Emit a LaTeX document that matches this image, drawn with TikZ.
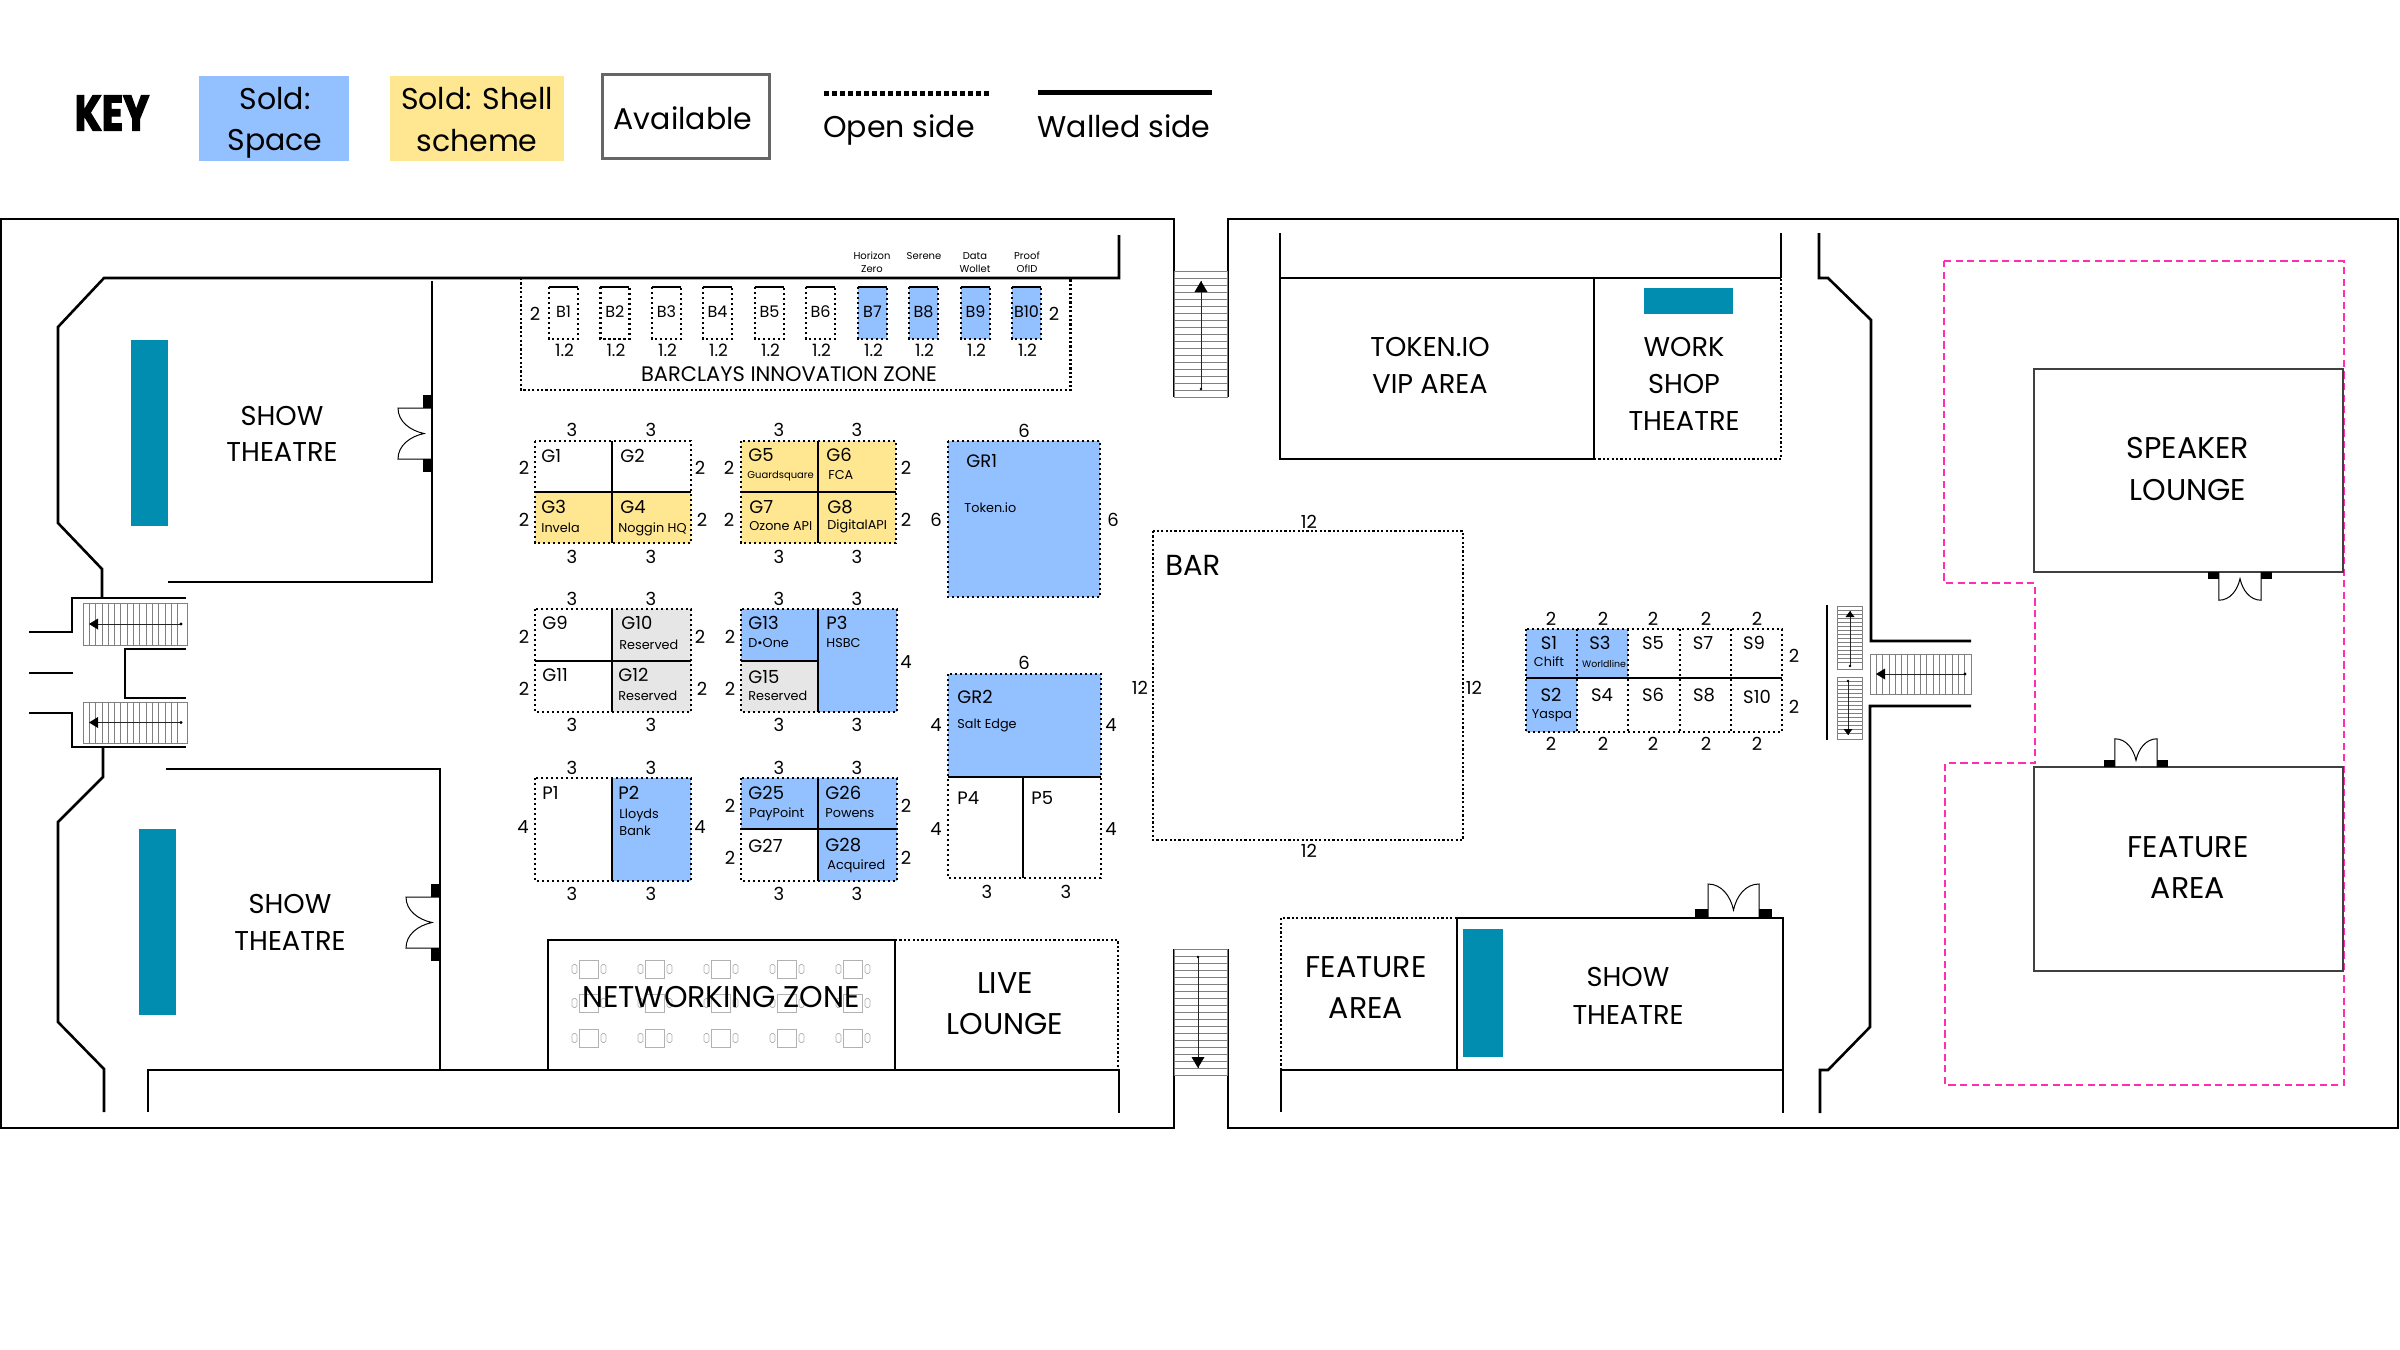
\documentclass[tikz,border=0pt]{standalone}
\usepackage{fontspec}
\setmainfont{Poppins}
\newfontfamily\keyfont{Poppins}[BoldFeatures={FakeBold=2.5, FakeStretch=0.78}]
\usepackage{tikz}

\definecolor{soldblue}{HTML}{93C1FF}
\definecolor{shellyellow}{HTML}{FFE792}
\definecolor{reservedgrey}{HTML}{E6E6E6}
\definecolor{screenteal}{HTML}{008DB0}
\definecolor{zonepink}{HTML}{FF2DB4}

\tikzset{
  wall/.style={line width=1.3pt, line join=miter},
  outerwall/.style={line width=1.3pt},
  thinwall/.style={line width=1pt, draw=black!75},
  opened/.style={line width=1.35pt, dash pattern=on 1.2pt off 1.3pt},
  openthin/.style={line width=1.1pt, dash pattern=on 1.1pt off 1.1pt},
  stairline/.style={line width=0.4pt, draw=black!50},
  stairarrow/.style={line width=0.4pt, draw=black!85},
  furniture/.style={line width=0.35pt, draw=black!30},
  roomlabel/.style={inner sep=0pt, font=\fontsize{13.6}{16}\selectfont, anchor=mid, yshift=-2.2pt},
  biglabel/.style={roomlabel, font=\fontsize{15}{16}\selectfont},
  dimlabel/.style={inner sep=0pt, font=\fontsize{9}{10}\selectfont, anchor=mid, yshift=-0.8pt},
  standlabel/.style={inner sep=0pt, font=\fontsize{9}{10}\selectfont, anchor=mid west, yshift=-0.5pt},
  firmlabel/.style={inner sep=0pt, font=\fontsize{6.4}{7}\selectfont, anchor=mid west, yshift=0.4pt},
  tinylabel/.style={firmlabel, anchor=mid, font=\fontsize{5}{6}\selectfont},
  keylabel/.style={inner sep=0pt, font=\fontsize{15}{16}\selectfont, anchor=mid, yshift=-3pt},
  door/.pic={
    \fill (0,-25.5) rectangle (-9,-38.5);
    \fill (0,25.5) rectangle (-9,38.5);
    \draw[line width=0.5pt] (0,-25.5) -- (-34,-25.5) .. controls (-34,-12) and (-22,-3) .. (-8,0)
      .. controls (-22,3) and (-34,12) .. (-34,25.5) -- (0,25.5);
  }
}

\begin{document}
\begin{tikzpicture}[x=0.5pt, y=-0.5pt]
  \useasboundingbox (0,0) rectangle (2400,1350);

  % Key
  \node[inner sep=0pt, font=\fontsize{25}{26}\selectfont\keyfont\bfseries] (keytitle) at (112,113) {KEY};
  \fill[soldblue] (199,76) rectangle (349,161);
  \fill[shellyellow] (390,76) rectangle (564,161);
  \draw[line width=1.5pt, draw=black!60] (602,74) rectangle (769,158);
  \draw[line width=2.5pt, dash pattern=on 2.4pt off 1.6pt] (824,93) -- (990,93);
  \draw[line width=2.5pt] (1038,92) -- (1212,92);
  \node[keylabel] (keya) at (275,98) {Sold:};
  \node[keylabel] (keyb) at (275,139) {Space};
  \node[keylabel] (keyc) at (477,98) {Sold: Shell};
  \node[keylabel] (keyd) at (477,140) {scheme};
  \node[keylabel] (keye) at (683,118) {Available};
  \node[keylabel] (keyf) at (899,126) {Open side};
  \node[keylabel] (keyg) at (1124,126) {Walled side};

  % Outer walls
  \draw[outerwall] (1174,397) -- (1174,219) -- (1,219) -- (1,1128) -- (1174,1128) -- (1174,949);
  \draw[outerwall] (1228,397) -- (1228,219) -- (2398,219) -- (2398,1128) -- (1228,1128) -- (1228,949);

  % Left block walls
  \draw[wall] (1119,235) -- (1119,278) -- (104,278) -- (58,327) -- (58,523) -- (102,569) -- (102,598);
  \draw[wall] (186,598) -- (72,598) -- (72,632) -- (29,632);
  \draw[wall] (29,673) -- (73,673);
  \draw[wall] (29,713) -- (72,713) -- (72,747) -- (186,747);
  \draw[wall] (186,649) -- (125,649) -- (125,698) -- (186,698);
  \draw[wall] (103,747) -- (103,777) -- (58,822) -- (58,1022) -- (104,1069) -- (104,1112);
  \draw[wall] (148,1112) -- (148,1070) -- (1119,1070) -- (1119,1113);
  \draw[wall] (432,281) -- (432,582) -- (168,582);
  \draw[wall] (166,769) -- (440,769) -- (440,1070);

  % Right block walls
  \draw[wall] (1819,233) -- (1819,278) -- (1828,278) -- (1871,320) -- (1871,641) -- (1971,641);
  \draw[wall] (1971,706) -- (1870,706) -- (1870,1027) -- (1828,1070) -- (1820,1070) -- (1820,1113);
  \draw[wall] (1827,605) -- (1827,740);

  % Top rooms
  \draw[wall] (1280,233) -- (1280,459) -- (1594,459);
  \draw[wall] (1280,278) -- (1781,278);
  \draw[wall] (1781,233) -- (1781,278);
  \draw[wall] (1594,278) -- (1594,459);
  \draw[openthin] (1594,459) -- (1781,459) -- (1781,278);
  \fill[screenteal] (1644,288) rectangle (1733,314);
  \node[roomlabel] (vipa) at (1430,347) {TOKEN.IO};
  \node[roomlabel] (vipb) at (1430,384) {VIP AREA};
  \node[roomlabel] (worka) at (1684,347) {WORK};
  \node[roomlabel] (workb) at (1684,384) {SHOP};
  \node[roomlabel] (workc) at (1684,421) {THEATRE};

  % Bottom rooms
  \draw[wall] (1281,1112) -- (1281,1070) -- (1783,1070);
  \draw[wall] (1457,1070) -- (1457,918) -- (1783,918) -- (1783,1113);
  \draw[openthin] (1281,1070) -- (1281,918) -- (1457,918);
  \fill[screenteal] (1463,929) rectangle (1503,1057);
  \node[biglabel] (feata) at (1366,968) {FEATURE};
  \node[biglabel] (featb) at (1366,1009) {AREA};
  \node[roomlabel] (showa) at (1628,977) {SHOW};
  \node[roomlabel] (showb) at (1628,1015) {THEATRE};

  % Left theatres
  \fill[screenteal] (131,340) rectangle (168,526);
  \fill[screenteal] (139,829) rectangle (176,1015);
  \node[roomlabel] (upshowa) at (282,416) {SHOW};
  \node[roomlabel] (upshowb) at (282,452) {THEATRE};
  \node[roomlabel] (loshowa) at (290,904) {SHOW};
  \node[roomlabel] (loshowb) at (290,941) {THEATRE};

  % Pink zone
  \draw[line width=1.4pt, draw=zonepink, dash pattern=on 3.6pt off 2.2pt]
    (1944,261) -- (2344,261) -- (2344,1085) -- (1945,1085) -- (1945,763) -- (2035,763) -- (2035,583) -- (1944,583) -- cycle;

  % Lounges on the right
  \draw[thinwall, fill=white] (2034,369) rectangle (2343,572);
  \draw[thinwall, fill=white] (2034,767) rectangle (2343,971);
  \node[biglabel] (speaka) at (2188,449) {SPEAKER};
  \node[biglabel] (speakb) at (2188,491) {LOUNGE};
  \node[biglabel] (featc) at (2188,848) {FEATURE};
  \node[biglabel] (featd) at (2188,889) {AREA};

  % Doors
  \pic at (432,433.5) {door};
  \pic at (440,922.5) {door};
  \pic[rotate=-90] at (1733.5,918) {door};
  \pic[rotate=90, scale=0.83] at (2240,572) {door};
  \pic[rotate=-90, scale=0.83] at (2136,767) {door};

  % Stairs, rungs across the short side
  \foreach \xa/\xb/\ya/\yb in {83/187/603/645, 83/187/702/743, 1870/1971/654/694} {
    \draw[stairline] (\xa,\ya) rectangle (\xb,\yb);
    \foreach \s in {1,...,15} \draw[stairline] (\xa+\s*6.3,\ya) -- (\xa+\s*6.3,\yb);
    \draw[stairarrow] (\xb-6,\ya/2+\yb/2) -- (\xa+9,\ya/2+\yb/2);
    \fill (\xb-6,\ya/2+\yb/2) circle (1.7);
    \fill (\xa+6,\ya/2+\yb/2) -- (\xa+15,\ya/2+\yb/2-5.5) -- (\xa+15,\ya/2+\yb/2+5.5) -- cycle;
  }
  \foreach \xa/\xb/\ya/\yb/\xm/\yc/\yd/\ye/\gap/\hw in {1174/1227/271/397/1201/389/281/292/7/6.5, 1174/1227/949/1075/1198/957/1068/1057/7/6.5, 1837/1862/606/669/1850/666/611/617/4/4.5, 1837/1862/677/739/1848/681/735/729/4/4.5} {
    \draw[stairline] (\xa,\ya) rectangle (\xb,\yb);
    \pgfmathtruncatemacro{\rungs}{(\yb-\ya)/\gap-1}
    \foreach \s in {1,...,\rungs} \draw[stairline] (\xa,\ya+\s*\gap) -- (\xb,\ya+\s*\gap);
    \draw[stairarrow] (\xm,\yc) -- (\xm,\yd);
    \fill (\xm,\yc) circle (1.4);
    \fill (\xm,\yd) -- (\xm-\hw,\ye) -- (\xm+\hw,\ye) -- cycle;
  }

  % Networking zone and live lounge
  \draw[wall] (548,1070) -- (548,940) -- (895,940) -- (895,1070);
  \draw[openthin] (895,940) -- (1118,940) -- (1118,1070);
  \foreach \tx in {589,655,721,787,853} {
    \foreach \ty in {969,1003,1038} {
      \draw[furniture] (\tx-9.5,\ty-9) rectangle (\tx+9.5,\ty+9);
      \draw[furniture, rounded corners=0.8pt] (\tx-17,\ty-4.5) rectangle (\tx-12,\ty+4.5);
      \draw[furniture, rounded corners=0.8pt] (\tx+12,\ty-4.5) rectangle (\tx+17,\ty+4.5);
    }
  }
  \node[biglabel] (networking) at (721,998) {NETWORKING ZONE};
  \node[biglabel] (livea) at (1005,984) {LIVE};
  \node[biglabel] (liveb) at (1005,1025) {LOUNGE};

  % Bar
  \draw[openthin] (1153,531) rectangle (1463,840);
  \node[roomlabel, anchor=mid west, font=\fontsize{14.5}{16}\selectfont] (bar) at (1165,566) {BAR};
  \node[dimlabel] (bartop) at (1309,521) {12};
  \node[dimlabel] (barbot) at (1309,850) {12};
  \node[dimlabel] (barleft) at (1140,687) {12};
  \node[dimlabel] (barright) at (1474,687) {12};

  % Barclays zone
  \draw[openthin] (521,278) -- (521,390) -- (1070.5,390) -- (1070.5,278);
  \fill[soldblue] (858,287) rectangle (887,339);
  \fill[soldblue] (909,287) rectangle (938,339);
  \fill[soldblue] (961,287) rectangle (990,339);
  \fill[soldblue] (1012,287) rectangle (1041,339);
  \foreach \bx/\bn in {549/B1,600.4/B2,652/B3,703/B4,755/B5,806/B6,858/B7,909/B8,961/B9,1012/B10} {
    \draw[opened] (\bx,287) -- (\bx,339) -- (\bx+29,339) -- (\bx+29,287);
    \draw[wall] (\bx,287) -- (\bx+29,287);
    \node[inner sep=0pt, font=\fontsize{8}{9}\selectfont] (\bn) at (\bx+14.5,312) {\bn};
    \node[dimlabel, font=\fontsize{8.5}{9}\selectfont] (dim\bn) at (\bx+15.5,349) {1.2};
  }
  \node[dimlabel] (bardimleft) at (535,313) {2};
  \node[dimlabel] (bardimright) at (1054,313) {2};
  \node[roomlabel, font=\fontsize{10.5}{11}\selectfont, yshift=1pt] (barclays) at (789,374) {BARCLAYS INNOVATION ZONE};
  \node[tinylabel] (horizona) at (872,255) {Horizon};
  \node[tinylabel] (horizonb) at (872,268) {Zero};
  \node[tinylabel] (serene) at (924,255) {Serene};
  \node[tinylabel] (dataa) at (975,255) {Data};
  \node[tinylabel] (datab) at (975,268) {Wollet};
  \node[tinylabel] (proofa) at (1027,255) {Proof};
  \node[tinylabel] (proofb) at (1027,268) {OfID};

  % Stand fills
  \fill[shellyellow] (535,492) rectangle (691,543);
  \fill[shellyellow] (741,441) rectangle (896,543);
  \fill[soldblue] (948,441) rectangle (1100,597);
  \fill[reservedgrey] (612,609) rectangle (691,712);
  \fill[soldblue] (741,609) rectangle (818,661);
  \fill[reservedgrey] (741,661) rectangle (818,712);
  \fill[soldblue] (818,609) rectangle (897,712);
  \fill[soldblue] (612,778) rectangle (691,881);
  \fill[soldblue] (741,778) rectangle (897,829);
  \fill[soldblue] (818,829) rectangle (897,881);
  \fill[soldblue] (948,674) rectangle (1101,777);
  \fill[soldblue] (1526,629) rectangle (1628,678);
  \fill[soldblue] (1526,678) rectangle (1577,732);

  % Stand outlines
  \draw[opened] (535,441) rectangle (691,543);
  \draw[wall] (612,441) -- (612,543);
  \draw[wall] (535,492) -- (691,492);
  \draw[opened] (741,441) rectangle (896,543);
  \draw[wall] (818,441) -- (818,543);
  \draw[wall] (741,492) -- (896,492);
  \draw[opened] (948,441) rectangle (1100,597);
  \draw[opened] (535,609) rectangle (691,712);
  \draw[wall] (612,609) -- (612,712);
  \draw[wall] (535,661) -- (691,661);
  \draw[opened] (741,609) rectangle (897,712);
  \draw[wall] (818,609) -- (818,712);
  \draw[wall] (741,661) -- (818,661);
  \draw[opened] (535,778) rectangle (691,881);
  \draw[wall] (612,778) -- (612,881);
  \draw[opened] (741,778) rectangle (897,881);
  \draw[wall] (818,778) -- (818,881);
  \draw[wall] (741,829) -- (897,829);
  \draw[opened] (948,674) rectangle (1101,878);
  \draw[wall] (948,777) -- (1101,777);
  \draw[wall] (1023,777) -- (1023,878);
  \draw[opened] (1526,629) rectangle (1782,732);
  \foreach \sx in {1577,1628,1680,1731} \draw[opened] (\sx,629) -- (\sx,732);
  \draw[wall] (1526,678) -- (1782,678);

  % Stand names
  % -- G1 to G8
  \node[standlabel] (G1) at (541,456) {G1};
  \node[standlabel] (G2) at (620,456) {G2};
  \node[standlabel] (G3) at (541,507) {G3};
  \node[standlabel] (G4) at (620,507) {G4};
  \node[firmlabel] (invela) at (541,528) {Invela};
  \node[firmlabel] (noggin) at (618,528) {Noggin HQ};
  \node[standlabel] (G5) at (748,455) {G5};
  \node[standlabel] (G6) at (826,455) {G6};
  \node[firmlabel, font=\fontsize{5}{6}\selectfont] (guardsquare) at (747,474) {Guardsquare};
  \node[firmlabel] (fca) at (828,475) {FCA};
  \node[standlabel] (G7) at (749,507) {G7};
  \node[standlabel] (G8) at (827,507) {G8};
  \node[firmlabel] (ozone) at (749,526) {Ozone API};
  \node[firmlabel] (digitalapi) at (827,525) {DigitalAPI};
  \node[standlabel] (GR1) at (966,461) {GR1};
  \node[firmlabel] (tokenio) at (964,508) {Token.io};
  % -- G9 to G15
  \node[standlabel] (G9) at (542,623) {G9};
  \node[standlabel] (G10) at (621,623) {G10};
  \node[firmlabel] (resa) at (619,645) {Reserved};
  \node[standlabel] (G11) at (542,675) {G11};
  \node[standlabel] (G12) at (618,675) {G12};
  \node[firmlabel] (resb) at (618,696) {Reserved};
  \node[standlabel] (G13) at (748,623) {G13};
  \node[firmlabel] (done) at (748,643) {D•One};
  \node[standlabel] (P3) at (826,623) {P3};
  \node[firmlabel] (hsbc) at (826,643) {HSBC};
  \node[standlabel] (G15) at (748,677) {G15};
  \node[firmlabel] (resc) at (748,696) {Reserved};
  % -- bottom row
  \node[standlabel] (P1) at (542,793) {P1};
  \node[standlabel] (P2) at (618,793) {P2};
  \node[firmlabel] (lloyds) at (619,814) {Lloyds};
  \node[firmlabel] (bank) at (619,831) {Bank};
  \node[standlabel] (G25) at (748,793) {G25};
  \node[firmlabel] (paypoint) at (749,813) {PayPoint};
  \node[standlabel] (G26) at (825,793) {G26};
  \node[firmlabel] (powens) at (825,813) {Powens};
  \node[standlabel] (G27) at (748,846) {G27};
  \node[standlabel] (G28) at (825,845) {G28};
  \node[firmlabel] (acquired) at (827,865) {Acquired};
  \node[standlabel] (GR2) at (957,697) {GR2};
  \node[firmlabel] (saltedge) at (957,724) {Salt Edge};
  \node[standlabel] (P4) at (957,798) {P4};
  \node[standlabel] (P5) at (1031,798) {P5};
  % -- S stands
  \foreach \sn/\sx/\sy in {S1/1549/643,S3/1600/643,S5/1653/643,S7/1703/643,S9/1754/643,S2/1551/695,S4/1602/695,S6/1653/695,S8/1704/695,S10/1757/697}
    \node[standlabel, anchor=mid] (\sn) at (\sx,\sy) {\sn};
  \node[firmlabel, anchor=mid] (chift) at (1549,662) {Chift};
  \node[firmlabel, anchor=mid, font=\fontsize{4.7}{5}\selectfont] (worldline) at (1604,663) {Worldline};
  \node[firmlabel, anchor=mid] (yaspa) at (1552,714) {Yaspa};

  % Stand sizes
  % -- top and bottom edges
  \foreach \dx/\dy/\dv in {572/429/3,651/429/3,779/429/3,857/429/3,572/556/3,651/556/3,779/556/3,857/556/3,1024/430/6,
    572/598/3,651/598/3,779/598/3,857/598/3,572/724/3,651/724/3,779/724/3,857/724/3,
    572/767/3,651/767/3,779/767/3,857/767/3,572/893/3,651/893/3,779/893/3,857/893/3,
    1024/662/6,987/891/3,1066/891/3}
    \node[dimlabel] at (\dx,\dy) {\dv};
  % -- left and right edges
  \foreach \dx/\dy/\dv in {524/467/2,524/519/2,700/467/2,702/519/2,729/467/2,729/519/2,906/467/2,906/519/2,936/519/6,1113/519/6,
    524/636/2,524/688/2,700/636/2,702/688/2,730/636/2,730/688/2,906/661/4,
    523/826/4,700/826/4,730/805/2,730/857/2,906/805/2,906/857/2,
    936/724/4,936/828/4,1111/724/4,1111/828/4}
    \node[dimlabel] at (\dx,\dy) {\dv};
  % -- S stands
  \foreach \dx in {1551,1603,1653,1706,1757} {
    \node[dimlabel] at (\dx,618) {2};
    \node[dimlabel] at (\dx,743) {2};
  }
  \node[dimlabel] (srighta) at (1794,655) {2};
  \node[dimlabel] (srightb) at (1794,706) {2};
\end{tikzpicture}
\end{document}
